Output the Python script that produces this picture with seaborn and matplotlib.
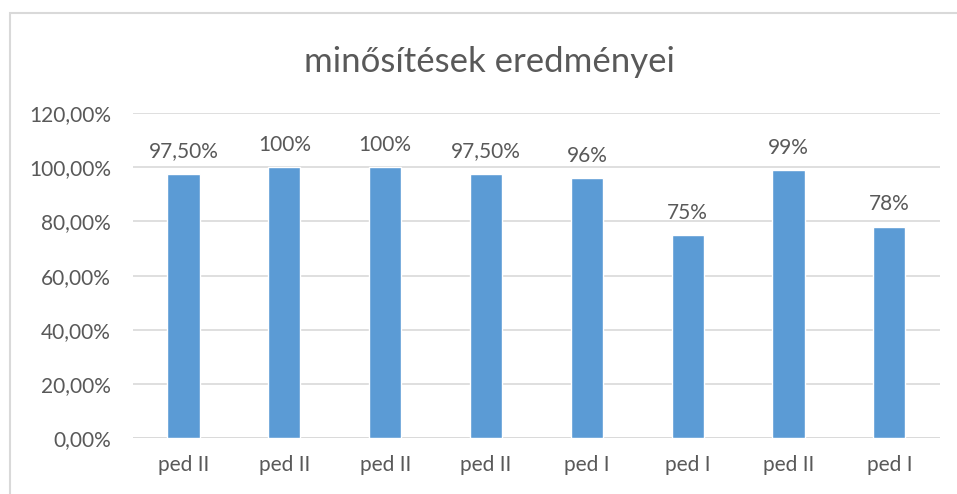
import numpy as np
import pandas as pd
import matplotlib
matplotlib.use("Agg")
import matplotlib.pyplot as plt
import seaborn as sns
from matplotlib.patches import Rectangle

# chart data
categories = ["ped II", "ped II", "ped II", "ped II", "ped I", "ped I", "ped II", "ped I"]
values = [0.975, 1.00, 1.00, 0.975, 0.96, 0.75, 0.99, 0.78]
value_labels = ["97,50%", "100%", "100%", "97,50%", "96%", "75%", "99%", "78%"]
y_ticks = [0.0, 0.2, 0.4, 0.6, 0.8, 1.0, 1.2]
y_tick_labels = ["0,00%", "20,00%", "40,00%", "60,00%", "80,00%", "100,00%", "120,00%"]
title = "minősítések eredményei"

sns.set_style("white")
plt.rcParams["font.family"] = ["Lato", "DejaVu Sans"]

text_color = "#595959"
grid_color = "#d9d9d9"
bar_color = "#5b9bd5"

df = pd.DataFrame({"pos": range(len(values)), "value": values})

fig = plt.figure(figsize=(9.57, 4.94), dpi=100)
ax = fig.add_axes([0.139, 0.113, 0.843, 0.658])

sns.barplot(data=df, x="pos", y="value", color=bar_color, width=0.32,
            saturation=1, ax=ax, zorder=3)

ax.set_ylim(0, 1.2)
ax.set_yticks(y_ticks)
ax.set_yticklabels(y_tick_labels, color=text_color, fontsize=15)
ax.set_xticks(range(len(categories)))
ax.set_xticklabels(categories, color=text_color, fontsize=15)
ax.set_xlim(-0.5, len(categories) - 0.5)
ax.set_xlabel("")
ax.set_ylabel("")
ax.tick_params(axis="x", length=0, pad=12)
ax.tick_params(axis="y", length=0, pad=16)

ax.yaxis.grid(True, color=grid_color, linewidth=1.2, zorder=0)
for s in ax.spines.values():
    s.set_visible(False)
ax.axhline(0, color=grid_color, linewidth=1.2, zorder=2)

for i, (v, lab) in enumerate(zip(values, value_labels)):
    ax.annotate(lab, (i, v), xytext=(0, 9), textcoords="offset points",
                ha="center", va="bottom", color=text_color, fontsize=15)

fig.text(0.511, 0.875, title, ha="center", va="center", color=text_color, fontsize=25)

# outer chart border
fig.patches.append(Rectangle((0.0104, -0.2), 2.0, 0.974 + 0.2,
                             transform=fig.transFigure, fill=False,
                             edgecolor=grid_color, linewidth=1.5))

fig.savefig("out.png", dpi=100)
